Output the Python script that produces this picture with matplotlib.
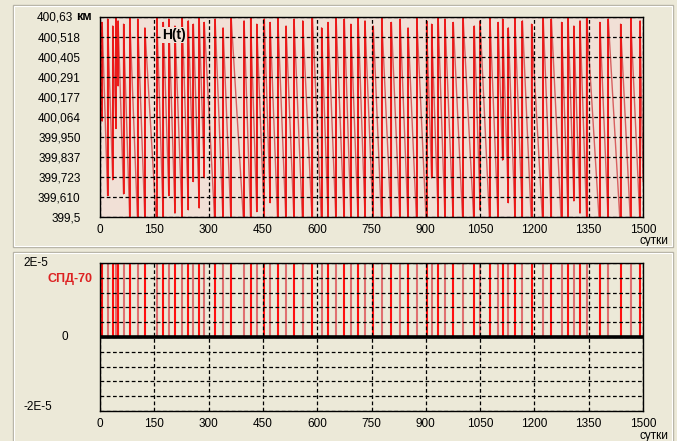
import matplotlib
matplotlib.use('Agg')
import matplotlib.pyplot as plt
from matplotlib.patches import Rectangle
import numpy as np

# ---------------- data ----------------
x_ticks = [0, 150, 300, 450, 600, 750, 900, 1050, 1200, 1350, 1500]
h_tick_labels = ["399,5", "399,610", "399,723", "399,837", "399,950", "400,064",
                 "400,177", "400,291", "400,405", "400,518", "400,63"]
h_min, h_max = 399.5, 400.63

# days of engine burns
boost_days = [6, 21, 35, 44, 50, 65, 82, 104, 124, 157, 175, 190, 207, 227, 244, 258,
              274, 288, 318, 340, 362, 398, 416, 433, 454, 470, 491, 514, 536, 560,
              587, 612, 630, 652, 675, 693, 713, 732, 755, 778, 805, 829, 851, 875,
              902, 916, 934, 953, 976, 1003, 1034, 1050, 1077, 1100, 1112, 1128, 1146,
              1167, 1192, 1224, 1247, 1275, 1293, 1309, 1326, 1344, 1381, 1404, 1438,
              1466, 1492]
# orbit height just after each burn, km
peak_h = [400.60, 400.62, 400.58, 400.63, 400.61, 400.59, 400.64, 400.62, 400.57, 400.63,
          400.60, 400.62, 400.58, 400.64, 400.61, 400.59, 400.63, 400.60, 400.62, 400.57,
          400.64, 400.61, 400.63, 400.59, 400.62, 400.60, 400.64, 400.58, 400.62, 400.61,
          400.63, 400.57, 400.60, 400.64, 400.62, 400.59, 400.63, 400.61, 400.58, 400.64,
          400.60, 400.62, 400.57, 400.63, 400.61, 400.59, 400.64, 400.62, 400.60, 400.63,
          400.58, 400.61, 400.64, 400.60, 400.62, 400.57, 400.63, 400.61, 400.59, 400.64,
          400.62, 400.60, 400.63, 400.58, 400.61, 400.64, 400.60, 400.62, 400.59, 400.63,
          400.61]
# orbit height just before each burn, km
trough_h = [400.04, 399.62, 399.71, 400.00, 400.24, 399.63, 399.49, 399.46, 399.48, 399.42,
            399.46, 399.62, 399.52, 399.47, 399.54, 399.70, 399.55, 399.72, 399.43, 399.47,
            399.46, 399.42, 399.48, 399.53, 399.47, 399.58, 399.46, 399.45, 399.47, 399.44,
            399.43, 399.45, 399.50, 399.46, 399.45, 399.49, 399.47, 399.50, 399.45, 399.46,
            399.43, 399.45, 399.47, 399.44, 399.43, 399.72, 399.50, 399.48, 399.46, 399.43,
            399.42, 399.54, 399.43, 399.46, 399.82, 399.58, 399.50, 399.47, 399.45, 399.42,
            399.46, 399.43, 399.49, 399.59, 399.52, 399.50, 399.41, 399.46, 399.42, 399.44,
            399.45]
h_start = 400.43
h_end = 399.70
thrust_level = 2e-5

assert len(boost_days) == len(peak_h) == len(trough_h)

# ---------------- style ----------------
BG = '#ece9d8'
plt.rcParams['font.family'] = ['Liberation Sans', 'DejaVu Sans']
plt.rcParams['font.size'] = 8.5

W, H = 677, 441
fig = plt.figure(figsize=(W / 100, H / 100), dpi=100, facecolor=BG)


def rect(l, t, r, b):
    return [l / W, 1 - b / H, (r - l) / W, (b - t) / H]


# panel frames
for (l, t, r, b) in [(13, 5, 673, 247), (13, 252, 673, 445)]:
    fig.patches.append(Rectangle((l / W, 1 - b / H), (r - l) / W, (b - t) / H,
                                 transform=fig.transFigure, facecolor='none',
                                 edgecolor='#b5b2a5', lw=1.0))
    fig.patches.append(Rectangle(((l + 1) / W, 1 - (b - 1) / H), (r - l - 2) / W, (b - t - 2) / H,
                                 transform=fig.transFigure, facecolor='none',
                                 edgecolor='#ffffff', lw=0.8))

ax1 = fig.add_axes(rect(100, 17, 643, 217))
ax2 = fig.add_axes(rect(100, 263, 643, 411))

grid_kw = dict(color='black', lw=0.9, linestyle=(0, (3, 2)))

# ---------------- top panel ----------------
ax1.set_facecolor('#f1e0d6')
xs = [0]
ys = [h_start]
for d, tr, pk in zip(boost_days, trough_h, peak_h):
    xs += [d, d]
    ys += [tr, pk]
xs.append(1500)
ys.append(h_end)
ax1.plot(xs, ys, color='#d86060', lw=1.0, zorder=2)
ax1.vlines(boost_days, trough_h, peak_h, color='#ee1111', lw=1.3, zorder=2)

ax1.set_xlim(0, 1500)
ax1.set_ylim(h_min, h_max)
ax1.set_xticks(x_ticks)
ax1.set_yticks(np.linspace(h_min, h_max, len(h_tick_labels)))
ylabels = list(h_tick_labels)
ylabels[-1] = ''
ax1.set_yticklabels(ylabels)
ax1.tick_params(axis='y', length=0, pad=14)
ax1.tick_params(axis='x', length=0, pad=5)
ax1.set_axisbelow(False)
ax1.grid(True, **grid_kw)
for s in ax1.spines.values():
    s.set_color('black')
    s.set_linewidth(1.0)
    s.set_zorder(5)

ax1.text(-27 / 543, 1.0, h_tick_labels[-1], transform=ax1.transAxes,
         ha='right', va='center', fontsize=8.5)
ax1.text(-24 / 543, 1.0, 'км', transform=ax1.transAxes,
         ha='left', va='center', fontsize=9, fontweight='bold')
ax1.text(171, 400.528, 'H(t)', ha='left', va='center', fontsize=10, fontweight='bold',
         zorder=6, bbox=dict(facecolor='#f1e0d6', edgecolor='none', pad=0.5))
ax1.text(1.02, -0.12, 'сутки', transform=ax1.transAxes, ha='center', va='center',
         fontsize=8.5)

# ---------------- bottom panel ----------------
ax2.set_facecolor(BG)
colors = ['#ff1010' if i % 2 == 0 else '#e07070' for i in range(len(boost_days))]
ax2.vlines(boost_days, 0, thrust_level, colors=colors, lw=1.5, zorder=2)
ax2.axhline(0, color='black', lw=2.6, zorder=6)
ax2.set_xlim(0, 1500)
ax2.set_ylim(-thrust_level, thrust_level)
ax2.set_xticks(x_ticks)
ax2.set_yticks(np.linspace(-thrust_level, thrust_level, 11))
ax2.set_yticklabels([''] * 11)
ax2.tick_params(axis='y', length=0)
ax2.tick_params(axis='x', length=0, pad=5)
ax2.set_axisbelow(False)
ax2.grid(True, **grid_kw)
for s in ax2.spines.values():
    s.set_color('black')
    s.set_linewidth(1.0)
    s.set_zorder(5)

ytr = ax2.get_yaxis_transform()
ax2.text(-77 / 543, thrust_level, '2E-5', transform=ytr, ha='left', va='center', fontsize=8.5)
ax2.text(-38 / 543, 0, '0', transform=ytr, ha='left', va='center', fontsize=8.5)
ax2.text(-77 / 543, -thrust_level * 0.95, '-2E-5', transform=ytr, ha='left', va='center', fontsize=8.5)
ax2.text(-8 / 543, 0.78 * thrust_level, 'СПД-70', transform=ytr, ha='right', va='center',
         fontsize=9, fontweight='bold', color='#dd2222')
ax2.text(1.02, -0.17, 'сутки', transform=ax2.transAxes, ha='center', va='center',
         fontsize=8.5)

fig.savefig('out.png', dpi=100, facecolor=BG)
